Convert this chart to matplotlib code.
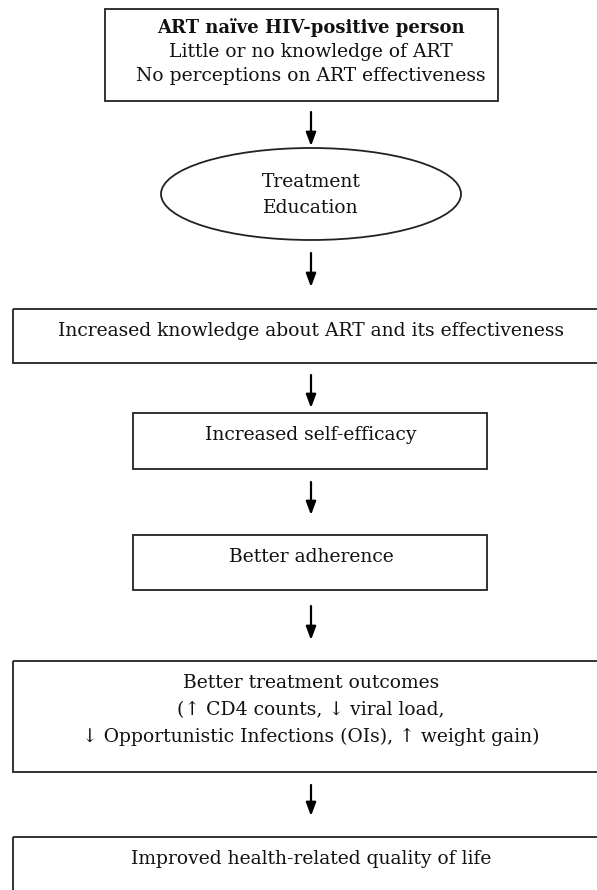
import matplotlib.pyplot as plt
from matplotlib.patches import Rectangle, Ellipse

# node texts, top to bottom
top_title = 'ART naïve HIV-positive person'
top_lines = ['Little or no knowledge of ART', 'No perceptions on ART effectiveness']
ellipse_lines = ['Treatment', 'Education']
box_texts = [
    ['Increased knowledge about ART and its effectiveness'],
    ['Increased self-efficacy'],
    ['Better adherence'],
    ['Better treatment outcomes', '(\u2191 CD4 counts, \u2193 viral load,',
     '\u2193 Opportunistic Infections (OIs), \u2191 weight gain)'],
    ['Improved health-related quality of life'],
]

W, H = 597, 890
fig = plt.figure(figsize=(W / 100, H / 100), dpi=100)
ax = fig.add_axes([0, 0, 1, 1])
ax.set_xlim(0, W)
ax.set_ylim(H, 0)
ax.axis('off')

font = dict(family='DejaVu Serif', fontsize=13.5, color='#111111')
lw = 1.3

# top box
ax.add_patch(Rectangle((105, 9), 393, 92, fill=False, lw=lw, ec='#222222'))
ax.text(311, 28, top_title, ha='center', va='center', fontweight='bold',
        **{**font, 'fontsize': 13})
ax.text(311, 52, top_lines[0], ha='center', va='center', **font)
ax.text(311, 76, top_lines[1], ha='center', va='center', **font)

# ellipse
ax.add_patch(Ellipse((311, 194), 300, 92, fill=False, lw=lw, ec='#222222'))
ax.text(311, 182, ellipse_lines[0], ha='center', va='center', **font)
ax.text(311, 208, ellipse_lines[1], ha='center', va='center', **font)

# rectangles: (x, y, w, h)
boxes = [(13, 309, 600, 54), (133, 413, 354, 56), (133, 535, 354, 55),
         (13, 661, 600, 111), (13, 837, 600, 80)]
for (x, y, w, h), lines in zip(boxes, box_texts):
    ax.add_patch(Rectangle((x, y), w, h, fill=False, lw=lw, ec='#222222'))
    for i, t in enumerate(lines):
        ax.text(311, y + 22 + i * 27, t, ha='center', va='center', **font)

# arrows (start y, end y)
arrows = [(112, 146), (253, 287), (375, 408), (482, 515), (606, 640), (785, 816)]
for y0, y1 in arrows:
    ax.annotate('', xy=(311, y1), xytext=(311, y0),
                arrowprops=dict(arrowstyle='-|>,head_length=0.8,head_width=0.3',
                                lw=1.6, color='black', shrinkA=0, shrinkB=0))

fig.savefig('out.png', dpi=100, facecolor='white')
